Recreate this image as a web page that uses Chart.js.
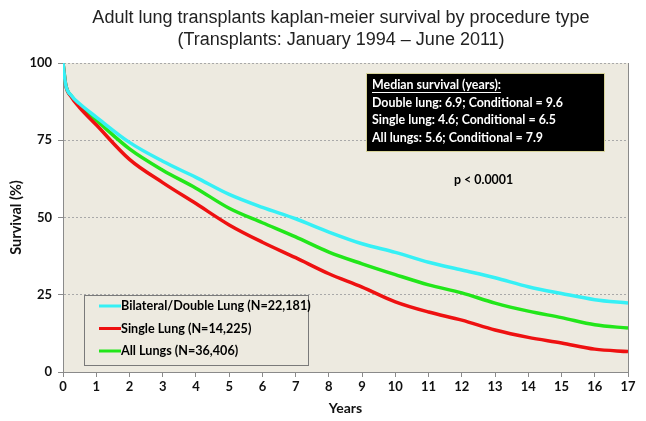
<!DOCTYPE html>
<html>
<head>
<meta charset="utf-8">
<script src="https://cdn.jsdelivr.net/npm/chart.js@4"></script>
<style>
  html, body { margin: 0; padding: 0; background: #fff; }
  #wrap { width: 646px; height: 421px; }
</style>
</head>
<body>
<div id="wrap"><canvas id="myChart-survie"></canvas></div>
<script>
// years after transplant
const years = [0, 0.08, 0.25, 0.5, 1, 2, 3, 4, 5, 6, 7, 8, 9, 10, 11, 12, 13, 14, 15, 16, 17];
const doubleLung = [100, 93, 89.5, 86.8, 82.5, 74.3, 68.2, 63, 57.5, 53.3, 49.6, 45.3, 41.5, 38.7, 35.5, 33, 30.5, 27.6, 25.4, 23.4, 22.3];
const singleLung = [100, 93, 89, 85.6, 80, 68.8, 61.3, 54.5, 47.6, 42, 37, 31.8, 27.5, 22.7, 19.4, 16.8, 13.6, 11.2, 9.4, 7.4, 6.6];
const allLungs = [100, 93, 89.3, 86.3, 81.5, 72.2, 65.3, 59.5, 53, 48.3, 43.7, 38.8, 35, 31.5, 28.2, 25.6, 22.3, 19.7, 17.6, 15.3, 14.2];
const seriesNames = ['Bilateral/Double Lung (N=22,181)', 'Single Lung (N=14,225)', 'All Lungs (N=36,406)'];
const titleLines = ['Adult lung transplants kaplan-meier survival by procedure type', '(Transplants: January 1994 \u2013 June 2011)'];
const medianLines = ['Median survival (years):', 'Double lung: 6.9; Conditional = 9.6', 'Single lung: 4.6; Conditional = 6.5', 'All lungs: 5.6; Conditional = 7.9'];
const pValue = 'p < 0.0001';

const toPts = arr => arr.map((v, i) => ({ x: years[i], y: v }));
const BOLD = 'Lato, "Open Sans", sans-serif';

// beige plot area + custom boxes
const decor = {
    id: 'decor',
    beforeDraw(chart) {
        const { ctx, chartArea: a } = chart;
        ctx.save();
        ctx.fillStyle = '#EDEAE0';
        ctx.fillRect(a.left, a.top, a.right - a.left, a.bottom - a.top);
        ctx.restore();
    },
    afterDraw(chart) {
        const { ctx, chartArea: a } = chart;
        ctx.save();
        // title
        ctx.fillStyle = '#222';
        ctx.font = '18px "Liberation Sans", Arial, sans-serif';
        ctx.textAlign = 'center';
        ctx.textBaseline = 'middle';
        ctx.fillText(titleLines[0], 341, 18);
        ctx.fillText(titleLines[1], 341, 40);

        // right border
        ctx.strokeStyle = '#8a8a8a';
        ctx.lineWidth = 1;
        ctx.beginPath();
        ctx.moveTo(a.right + 0.5, a.top);
        ctx.lineTo(a.right + 0.5, a.bottom);
        ctx.stroke();

        // median box
        ctx.fillStyle = '#000';
        ctx.fillRect(366, 73, 239, 79);
        ctx.strokeStyle = '#d8d49a';
        ctx.strokeRect(366.5, 73.5, 238, 78);
        ctx.fillStyle = '#fff';
        ctx.font = 'bold 12.4px ' + BOLD;
        ctx.textAlign = 'left';
        medianLines.forEach((t, i) => ctx.fillText(t, 372, 85 + i * 17.7));
        const w = ctx.measureText(medianLines[0]).width;
        ctx.fillRect(372, 92, w, 1);

        // p value
        ctx.fillStyle = '#000';
        ctx.fillText(pValue, 454, 180);

        // legend box
        ctx.font = 'bold 12.6px ' + BOLD;
        ctx.strokeStyle = '#7a7a7a';
        ctx.strokeRect(84.5, 295.5, 224, 70);
        chart.data.datasets.forEach((ds, i) => {
            const y = 306 + i * 22.5;
            ctx.strokeStyle = ds.borderColor;
            ctx.lineWidth = 3;
            ctx.beginPath();
            ctx.moveTo(99, y);
            ctx.lineTo(121, y);
            ctx.stroke();
            ctx.fillStyle = '#000';
            ctx.fillText(ds.label, 121, y);
        });
        ctx.restore();
    }
};

const ctx1 = document.getElementById('myChart-survie').getContext('2d');
const myChart1 = new Chart(ctx1, {
    type: 'line',
    data: {
        datasets: [{
            label: seriesNames[0],
            data: toPts(doubleLung),
            borderColor: '#36F0F5',
            borderWidth: 3.5
        }, {
            label: seriesNames[1],
            data: toPts(singleLung),
            borderColor: '#EE1111',
            borderWidth: 3.5
        }, {
            label: seriesNames[2],
            data: toPts(allLungs),
            borderColor: '#22E61A',
            borderWidth: 3.5
        }]
    },
    options: {
        responsive: true,
        maintainAspectRatio: false,
        animation: false,
        layout: { padding: { top: 63, right: 18, left: 0, bottom: 0 } },
        elements: { point: { radius: 0 }, line: { cubicInterpolationMode: 'monotone' } },
        plugins: { legend: { display: false }, tooltip: { enabled: false }, title: { display: false } },
        scales: {
            x: {
                type: 'linear',
                min: 0,
                max: 17,
                ticks: { stepSize: 1, color: '#111', font: { family: BOLD, size: 13, weight: 'bold' }, padding: 2 },
                grid: { display: true, drawOnChartArea: false, tickLength: 5, color: '#8a8a8a' },
                border: { color: '#8a8a8a' },
                title: { display: true, text: 'Years', color: '#111', font: { family: BOLD, size: 14, weight: 'bold' }, padding: { top: 2 } },
                afterFit: s => { s.height = 49; }
            },
            y: {
                min: 0,
                max: 100,
                ticks: { stepSize: 25, color: '#111', font: { family: BOLD, size: 13, weight: 'bold' }, padding: 6 },
                grid: { color: '#a9a9a9', tickLength: 5, tickColor: '#8a8a8a' },
                border: { color: '#8a8a8a', dash: [2, 2] },
                title: { display: true, text: 'Survival (%)', color: '#111', font: { family: BOLD, size: 14.5, weight: 'bold' }, padding: { top: 8, bottom: 0 } },
                afterFit: s => { s.width = 63; }
            }
        }
    },
    plugins: [decor]
});
</script>
</body>
</html>
